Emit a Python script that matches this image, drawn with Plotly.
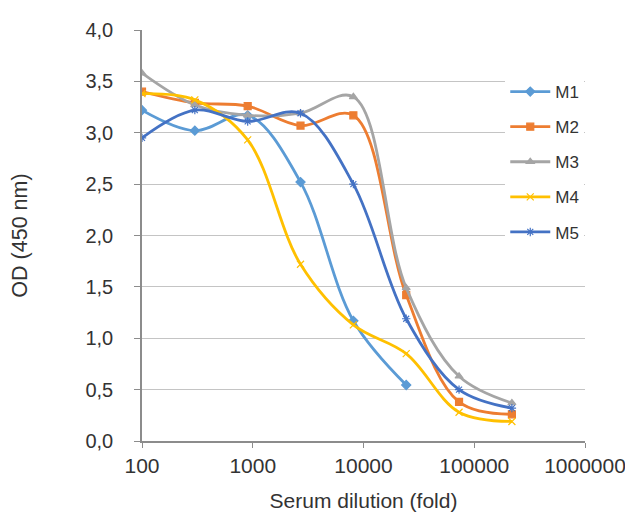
import plotly.graph_objects as go

dilution = [100, 300, 900, 2700, 8100, 24300, 72900, 218700]
m1 = [3.22, 3.02, 3.17, 2.52, 1.17, 0.545]
m2 = [3.40, 3.29, 3.26, 3.07, 3.17, 1.42, 0.38, 0.26]
m3 = [3.58, 3.27, 3.17, 3.19, 3.35, 1.49, 0.63, 0.37]
m4 = [3.38, 3.32, 2.93, 1.72, 1.13, 0.85, 0.28, 0.19]
m5 = [2.95, 3.22, 3.11, 3.19, 2.50, 1.19, 0.50, 0.32]

series = [
    ("M1", m1, "#5B9BD5", "diamond"),
    ("M2", m2, "#ED7D31", "square"),
    ("M3", m3, "#A5A5A5", "triangle-up"),
    ("M4", m4, "#FFC000", "x-thin-open"),
    ("M5", m5, "#4472C4", "asterisk-open"),
]

y_ticks = [0, 0.5, 1, 1.5, 2, 2.5, 3, 3.5, 4]
y_ticklabels = ["0,0", "0,5", "1,0", "1,5", "2,0", "2,5", "3,0", "3,5", "4,0"]
grid_vals = [0.5, 1, 1.5, 2, 2.5, 3, 3.5]
x_ticks = [100, 1000, 10000, 100000, 1000000]
x_ticklabels = ["100", "1000", "10000", "100000", "1000000"]

fig = go.Figure()
for i, (name, vals, color, sym) in enumerate(series):
    fig.add_trace(go.Scatter(
        x=dilution[:len(vals)], y=vals, name=name, mode="lines+markers",
        line=dict(color=color, width=2.8, shape="spline", smoothing=1.0),
        marker=dict(symbol=sym, size=7, color=color, line=dict(color=color, width=1.2)),
        legendgroup=name,
    ))

# invisible helper trace on the gridline axis
fig.add_trace(go.Scatter(x=[100], y=[0], yaxis="y2", showlegend=False,
                         mode="markers", marker=dict(opacity=0), hoverinfo="skip"))

fig.update_layout(
    width=633, height=516,
    margin=dict(l=134, r=56, t=22, b=83),
    paper_bgcolor="white", plot_bgcolor="white",
    font=dict(family="Liberation Sans, Arial, sans-serif", size=14, color="#333333"),
    xaxis=dict(
        type="log", range=[2, 6], tickvals=x_ticks, ticktext=x_ticklabels,
        showgrid=False, showline=True, linecolor="#8C8C8C", linewidth=1.5,
        ticks="outside", ticklen=5, tickcolor="#8C8C8C",
        tickfont=dict(size=21, color="#333333"),
        title=dict(text="Serum dilution (fold)", font=dict(size=21), standoff=17),
        zeroline=False, automargin=False,
    ),
    yaxis=dict(
        range=[0, 4], tickvals=y_ticks, ticktext=y_ticklabels,
        showgrid=False, showline=True, linecolor="#8C8C8C", linewidth=1.5,
        ticks="outside", ticklen=6, tickcolor="#8C8C8C",
        tickfont=dict(size=20, color="#333333"), ticklabelstandoff=17,
        title=dict(text="OD (450 nm)", font=dict(size=21.5), standoff=55),
        zeroline=False, automargin=False,
    ),
    yaxis2=dict(
        range=[0, 4], overlaying="y", tickvals=grid_vals, showticklabels=False,
        showgrid=True, gridcolor="#C4C4C4", gridwidth=1.2, zeroline=False,
        layer="below traces",
    ),
    legend=dict(
        x=0.82, y=0.893, xanchor="left", yanchor="top",
        bgcolor="white", font=dict(size=17, color="#333333"),
        tracegroupgap=10, itemwidth=40,
    ),
    showlegend=True,
)

fig.write_html("out.html")
